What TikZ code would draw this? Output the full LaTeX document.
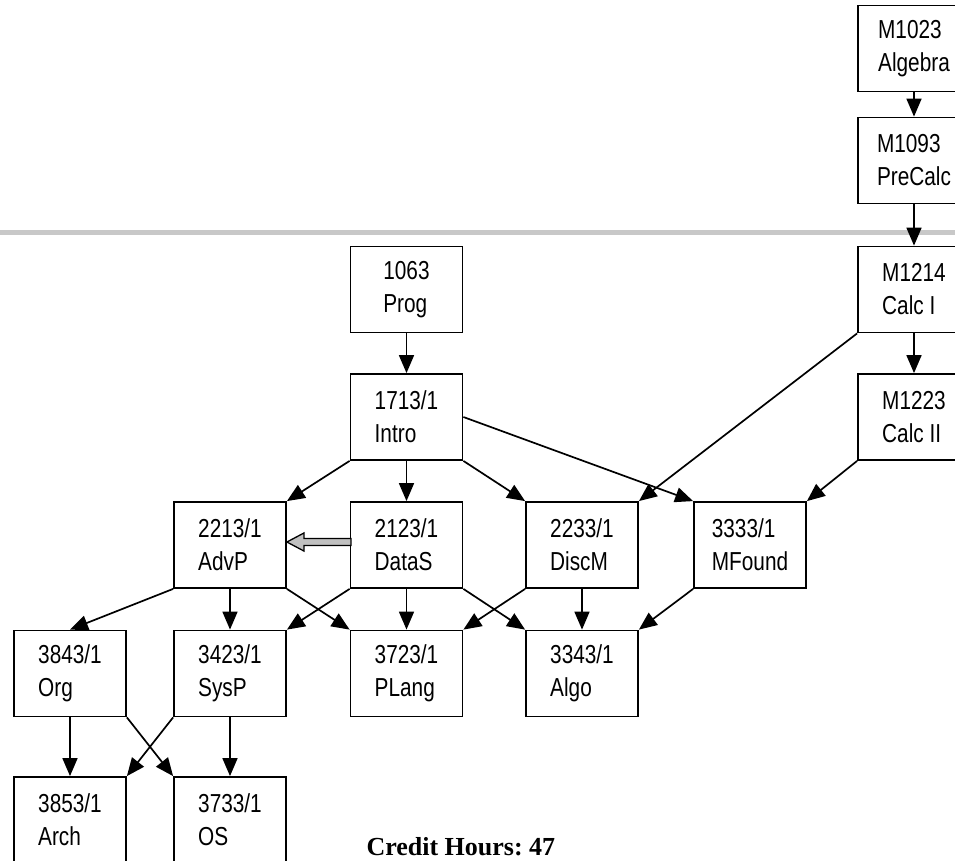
\documentclass[tikz,border=0pt]{standalone}
\usepackage{fontspec}
\usepackage{tikz}
\usetikzlibrary{arrows.meta,calc}
\newfontfamily\boxfont{Liberation Sans}[FakeStretch=0.8]
\newfontfamily\credfont{Liberation Serif}
\definecolor{rulegray}{HTML}{C8C8C8}
\definecolor{fillgray}{HTML}{C0C0C0}

\tikzset{
    course/.style = {draw, line width=1.8pt, minimum width=112pt, minimum height=86pt,
                     inner sep=0pt, align=left, font=\boxfont\fontsize{26}{33}\selectfont},
    prereq/.style = {line width=1.7pt, -{Triangle[length=18pt,width=15pt]}},
    blockarrow/.style = {draw, line width=1.3pt, fill=fillgray}
}

\begin{document}
\begin{tikzpicture}[x=1pt, y=-1pt]
    \useasboundingbox (0,0) rectangle (955,860);

    \draw[rulegray, line width=5pt] (0,232) -- (955,232);

    % math column
    \node[course] (Alg) at (914,48.5) {M1023\\Algebra};
    \node[course] (Pre) at (914,160.5) {M1093\\PreCalc};
    \node[course] (CalcI) at (914,289.5) {M1214\\Calc I};
    \node[course] (CalcII) at (914,417) {M1223\\Calc II};

    \node[course] (Prog) at (406.5,289.5) {1063\\Prog};
    \node[course] (Intro) at (406.5,417) {1713/1\\Intro};

    \node[course] (AdvP) at (230,545) {2213/1\\AdvP};
    \node[course] (DataS) at (406.5,545) {2123/1\\DataS};
    \node[course] (DiscM) at (582,545) {2233/1\\DiscM};
    \node[course] (MFound) at (750,545) {3333/1\\MFound};

    \node[course] (Org) at (70,673.5) {3843/1\\Org};
    \node[course] (SysP) at (230,673.5) {3423/1\\SysP};
    \node[course] (PLang) at (406.5,673.5) {3723/1\\PLang};
    \node[course] (Algo) at (582,673.5) {3343/1\\Algo};

    \node[course] (Arch) at (70,820) {3853/1\\Arch};
    \node[course] (OS) at (230,820) {3733/1\\OS};

    \node[anchor=base west, font=\credfont\bfseries\fontsize{26}{30}\selectfont] (credits) at (363,855) {Credit Hours:\ 47};

    \draw[prereq] (Alg) -- (Pre);
    \draw[prereq] (Pre) -- (CalcI);
    \draw[prereq] (CalcI) -- (CalcII);
    \draw[prereq] (CalcI.south west) -- (DiscM.north east);
    \draw[prereq] (CalcII.south west) -- (MFound.north east);

    \draw[prereq] (Prog) -- (Intro);
    \draw[prereq] (Intro.south west) -- (AdvP.north east);
    \draw[prereq] (Intro) -- (DataS);
    \draw[prereq] (Intro.south east) -- (DiscM.north west);
    \draw[prereq] (Intro.east) -- (MFound.north west);

    \draw[prereq] (AdvP.south west) -- (Org.north);
    \draw[prereq] (AdvP) -- (SysP);
    \draw[prereq] (AdvP.south east) -- (PLang.north west);
    \draw[prereq] (DataS.south west) -- (SysP.north east);
    \draw[prereq] (DataS) -- (PLang);
    \draw[prereq] (DataS.south east) -- (Algo.north west);
    \draw[prereq] (DiscM.south west) -- (PLang.north east);
    \draw[prereq] (DiscM) -- (Algo);
    \draw[prereq] (MFound.south west) -- (Algo.north east);

    \draw[prereq] (Org) -- (Arch);
    \draw[prereq] (Org.south east) -- (OS.north west);
    \draw[prereq] (SysP.south west) -- (Arch.north east);
    \draw[prereq] (SysP) -- (OS);

    % hollow gray arrow DataS -> AdvP
    \coordinate (tip) at ([yshift=3pt]AdvP.east);
    \draw[blockarrow] (tip) -- ++(17,-9) -- ++(0,5.5) -- ++(47,0) -- ++(0,7)
        -- ++(-47,0) -- ++(0,5.5) -- cycle;
\end{tikzpicture}
\end{document}
